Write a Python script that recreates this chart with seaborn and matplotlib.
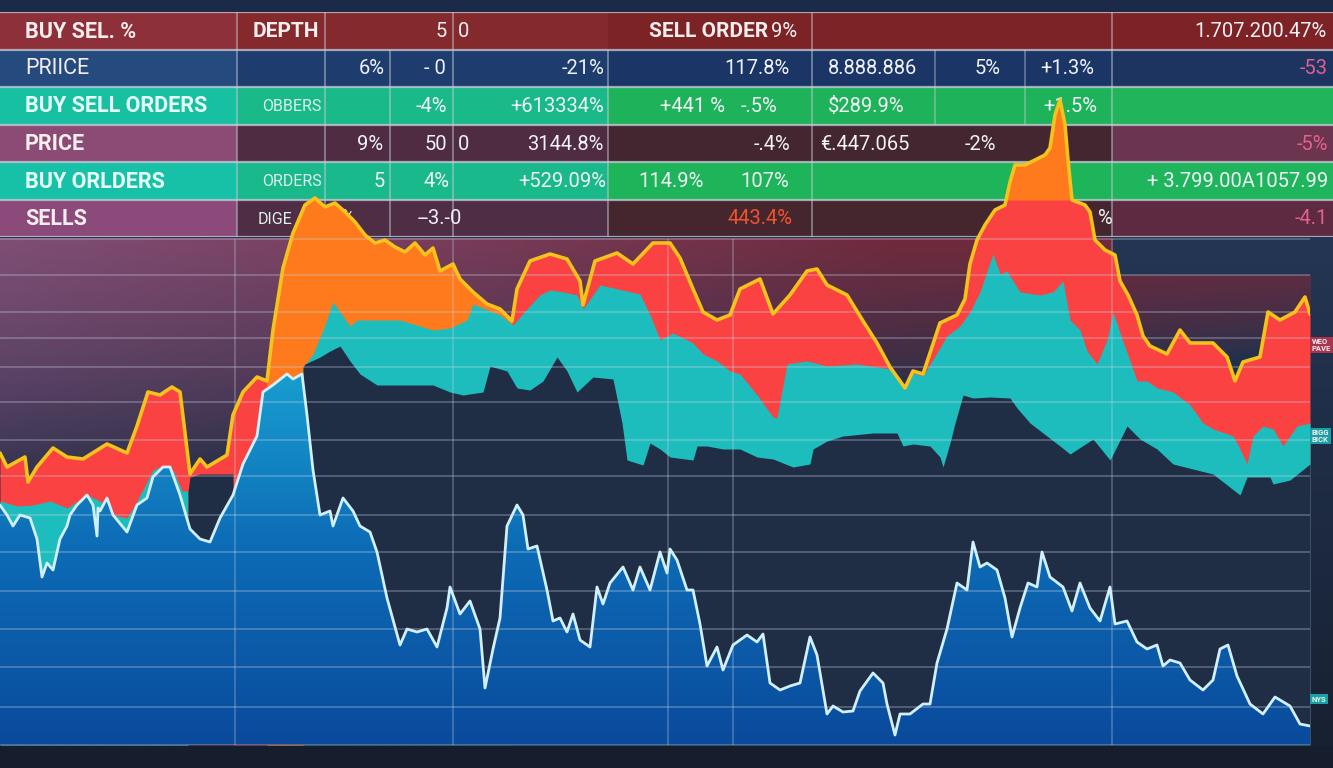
import numpy as np
import matplotlib
matplotlib.use('Agg')
import matplotlib.pyplot as plt
from matplotlib.colors import LinearSegmentedColormap
import seaborn as sns

# ---------------- data ----------------
# gold price line = top of the depth stack
gold_t = [0, 7, 25, 28, 37, 53, 67, 83, 107, 127,
          137, 148, 160, 172, 180, 190, 200, 207, 227, 233,
          243, 257, 267, 273, 283, 293, 305, 315, 325, 335,
          345, 355, 365, 375, 385, 395, 405, 415, 425, 433,
          440, 453, 460, 473, 487, 500, 512, 517, 530, 550,
          567, 580, 583, 595, 617, 633, 653, 670, 680, 693,
          703, 717, 730, 740, 760, 773, 790, 807, 817, 827,
          847, 863, 877, 890, 905, 913, 923, 940, 957, 965,
          970, 977, 985, 995, 1005, 1010, 1015, 1025, 1035, 1045,
          1050, 1055, 1060, 1065, 1068, 1072, 1085, 1090, 1095, 1105,
          1115, 1120, 1128, 1137, 1143, 1150, 1167, 1180, 1190, 1213,
          1227, 1235, 1243, 1260, 1268, 1280, 1295, 1305, 1310]
gold_v = [292, 278, 288, 263, 278, 297, 288, 286, 301, 292,
          319, 353, 350, 358, 353, 271, 286, 278, 290, 330,
          353, 368, 364, 415, 477, 512, 540, 547, 538, 542,
          533, 523, 510, 502, 505, 498, 493, 502, 490, 497,
          474, 481, 466, 453, 441, 436, 424, 456, 484, 491,
          486, 464, 440, 484, 492, 481, 502, 502, 487, 456,
          433, 425, 430, 456, 466, 431, 450, 474, 476, 460,
          450, 424, 402, 378, 357, 374, 371, 422, 430, 446,
          481, 505, 520, 535, 540, 563, 580, 580, 585, 590,
          597, 630, 645, 620, 585, 545, 540, 533, 505, 495,
          490, 464, 450, 430, 409, 399, 391, 415, 402, 402,
          388, 364, 383, 388, 433, 425, 433, 448, 431]

# orange parts of the sell side
orange_spans = [(265, 512), (980, 1080)]
orange_floor = [0, 545]

# teal buy-depth band (top edge), two pieces
teal_left_t = [0, 17, 33, 50, 67, 87, 100, 113, 127, 137, 153, 160, 173, 182, 188]
teal_left_v = [244, 239, 240, 244, 237, 250, 244, 230, 227, 244, 275, 278, 275, 254, 254]
teal_t = [303, 313, 323, 333, 340, 350, 357, 400, 433, 450,
          467, 473, 500, 513, 527, 540, 550, 563, 577, 583,
          600, 640, 650, 660, 673, 693, 703, 717, 730, 740,
          757, 773, 777, 787, 807, 827, 857, 890, 905, 913,
          923, 947, 960, 970, 980, 987, 993, 1000, 1007, 1013,
          1020, 1040, 1053, 1063, 1070, 1080, 1087, 1097, 1107, 1113,
          1120, 1130, 1137, 1147, 1157, 1173, 1190, 1203, 1213, 1233,
          1240, 1247, 1253, 1263, 1273, 1283, 1297, 1310]
teal_v = [378, 391, 415, 443, 433, 419, 425, 425, 415, 417,
          425, 441, 430, 420, 436, 450, 455, 453, 450, 436,
          460, 451, 430, 405, 412, 402, 391, 384, 374, 371,
          350, 328, 327, 381, 384, 379, 381, 376, 355, 372,
          369, 409, 419, 433, 453, 474, 491, 471, 474, 464,
          453, 450, 453, 464, 425, 415, 394, 381, 405, 433,
          412, 384, 364, 364, 357, 353, 340, 322, 316, 309,
          296, 281, 309, 319, 316, 299, 319, 322]

# lower edge of the teal band (empty book below)
gap_t = [188, 190, 200, 233]
gap_v = [254, 268, 271, 271]
navy_t = [303, 305, 320, 330, 340, 350, 360, 377, 400, 433,
          450, 463, 483, 490, 507, 517, 530, 543, 557, 567,
          577, 593, 613, 622, 627, 643, 650, 660, 670, 693,
          697, 707, 723, 740, 757, 773, 793, 810, 813, 827,
          843, 873, 897, 903, 913, 930, 940, 943, 950, 955,
          963, 973, 990, 1010, 1017, 1030, 1043, 1060, 1070, 1093,
          1110, 1127, 1140, 1157, 1173, 1213, 1240, 1247, 1270, 1273,
          1290, 1310]
navy_v = [378, 381, 388, 394, 399, 384, 371, 360, 360, 360,
          353, 350, 353, 379, 374, 357, 355, 364, 388, 374,
          353, 368, 366, 322, 285, 280, 302, 296, 288, 285,
          299, 299, 296, 296, 288, 286, 278, 281, 296, 304,
          309, 312, 312, 299, 301, 299, 288, 278, 302, 322,
          350, 347, 348, 347, 337, 322, 312, 299, 291, 306,
          285, 319, 306, 296, 281, 271, 250, 268, 268, 261,
          265, 281]

# light-blue volume line
blue_t = [0, 7, 13, 20, 30, 37, 42, 47, 53, 60,
          67, 70, 77, 87, 93, 97, 98, 100, 107, 113,
          127, 137, 147, 153, 163, 170, 180, 190, 200, 210,
          220, 233, 243, 257, 263, 273, 287, 293, 302, 307,
          313, 320, 330, 333, 343, 353, 360, 370, 377, 387,
          400, 407, 417, 427, 437, 447, 450, 460, 470, 480,
          485, 493, 500, 507, 517, 523, 528, 537, 547, 553,
          560, 567, 573, 580, 590, 597, 603, 610, 623, 633,
          640, 650, 660, 667, 670, 677, 687, 693, 700, 707,
          717, 723, 733, 747, 757, 763, 770, 780, 790, 800,
          810, 817, 827, 833, 843, 853, 860, 873, 883, 887,
          895, 900, 910, 923, 930, 937, 947, 957, 967, 973,
          980, 987, 997, 1005, 1012, 1020, 1028, 1037, 1042, 1050,
          1063, 1072, 1080, 1090, 1100, 1110, 1115, 1127, 1137, 1147,
          1157, 1163, 1170, 1180, 1190, 1203, 1213, 1220, 1228, 1237,
          1250, 1263, 1275, 1290, 1300, 1310]
blue_v = [240, 230, 219, 230, 227, 206, 168, 182, 175, 206,
          219, 230, 240, 250, 240, 209, 237, 234, 247, 230,
          213, 240, 247, 268, 278, 278, 250, 216, 206, 203,
          227, 250, 281, 309, 353, 360, 371, 366, 371, 330,
          275, 230, 234, 219, 247, 234, 219, 213, 193, 147,
          100, 116, 113, 116, 98, 137, 158, 131, 144, 116,
          57, 96, 127, 219, 240, 230, 196, 199, 155, 124,
          127, 113, 131, 105, 98, 158, 141, 162, 178, 155,
          178, 155, 193, 172, 196, 185, 155, 155, 121, 79,
          98, 75, 100, 110, 103, 111, 62, 55, 59, 62,
          108, 90, 31, 39, 33, 34, 54, 72, 62, 41,
          10, 31, 31, 41, 41, 82, 116, 162, 155, 203,
          178, 182, 175, 147, 108, 137, 162, 158, 193, 168,
          158, 134, 162, 137, 124, 158, 121, 124, 103, 96,
          100, 79, 85, 82, 65, 55, 65, 96, 100, 69,
          41, 31, 48, 39, 21, 19]

grid_levels = [0, 38, 78, 116, 154, 193, 230, 269, 305, 343, 378, 407, 433, 470, 506]
grid_times = [235, 453, 668, 733, 1112]

# order book table
row_labels = ['BUY SEL. %', 'PRIICE', 'BUY SELL ORDERS', 'PRICE', 'BUY ORLDERS', 'SELLS']
row_bold = [True, False, True, True, True, True]
seg_edges = [0, 237, 608, 1112, 1333]
row_colors = [['#8e3039', '#84292c', '#7c2425', '#7d2326'],
              ['#244a7e', '#1e3d6e', '#1b3666', '#1d3460'],
              ['#18c0a2', '#19b98a', '#1eb35a', '#22b45a'],
              ['#8b4b74', '#4f2c42', '#43262f', '#6b3550'],
              ['#17c1a8', '#1ab98c', '#1db45a', '#1fb55c'],
              ['#8c4a7a', '#4f2d45', '#45262f', '#5e2a42']]
head_seps = [237, 325, 453, 812, 1112]
body_seps = [237, 325, 390, 453, 608, 812, 1112]
cell_row = [0, 0, 0, 0, 0, 0,
            1, 1, 1, 1, 1, 1, 1, 1,
            2, 2, 2, 2, 2, 2, 2,
            3, 3, 3, 3, 3, 3, 3, 3,
            4, 4, 4, 4, 4, 4, 4,
            5, 5, 5, 5, 5, 5]
cell_x = [253, 447, 458, 768, 771, 1327,
          385, 446, 604, 790, 828, 975, 1040, 1328,
          262, 447, 604, 660, 741, 828, 1043,
          383, 447, 458, 604, 790, 820, 965, 1328,
          262, 385, 450, 606, 638, 740, 1328,
          258, 330, 418, 792, 1098, 1328]
cell_text = ['DEPTH', '5', '0', 'SELL ORDER', '9%', '1.707.200.47%',
             '6%', '- 0', '-21%', '117.8%', '8.888.886', '5%', '+1.3%', '-53',
             'OBBERS', '-4%', '+613334%', '+441 %', '-.5%', '$289.9%', '+1.5%',
             '9%', '50', '0', '3144.8%', '-.4%', '€.447.065', '-2%', '-5%',
             'ORDERS', '5', '4%', '+529.09%', '114.9%', '107%', '+ 3.799.00A1057.99',
             'DIGE', '0%', '--3.-0', '443.4%', '%', '-4.1']
cell_ha = ['left', 'right', 'left', 'right', 'left', 'right',
           'right', 'right', 'right', 'right', 'left', 'left', 'left', 'right',
           'left', 'right', 'right', 'left', 'left', 'left', 'left',
           'right', 'right', 'left', 'right', 'right', 'left', 'left', 'right',
           'left', 'right', 'right', 'right', 'left', 'left', 'right',
           'left', 'left', 'left', 'right', 'left', 'right']
cell_kind = ['head', 'num', 'num', 'head', 'num', 'num',
             'num', 'num', 'num', 'num', 'num', 'num', 'num', 'pink',
             'small', 'num', 'num', 'num', 'num', 'num', 'num',
             'num', 'num', 'num', 'num', 'num', 'num', 'num', 'pink',
             'small', 'num', 'num', 'num', 'num', 'num', 'num',
             'small', 'num', 'num', 'red', 'num', 'pink']

side_tags = ['WEO\nPAVE', 'BIGG\nBICK', 'NYS']
side_levels = [400, 309, 46]
side_colors = ['#a8344f', '#1c9ea6', '#1aa3a3']

RED = '#fb4242'
ORANGE = '#ff7a1c'
TEAL = '#1ebdbd'
NAVY = '#1f2d45'
GOLD = '#f6c21c'
LINE_BLUE = '#d2f0fb'

kind_style = {'head': dict(fontsize=15, fontweight='bold', color='#f6eeee'),
              'num': dict(fontsize=14.5, color='#f0f2f6'),
              'small': dict(fontsize=11.5, color='#dcf3ec'),
              'pink': dict(fontsize=14.5, color='#e2608c'),
              'red': dict(fontsize=14.5, color='#f0542c')}


def make_background():
    yy, xx = np.mgrid[0:768, 0:1333].astype(float)
    t = np.clip((yy - 238) / 507, 0, 1)[..., None]
    img = np.array([36, 54, 84]) * (1 - t) + np.array([24, 33, 50]) * t
    h = 505 - 0.12 * xx
    w = np.clip((h - yy) / (h - 238), 0, 1) ** 0.7
    w[(yy < 238) | (xx > 1310)] = 0
    w[(xx > 1112) & (yy < 275)] = 0
    s = np.clip(xx / 900, 0, 1)[..., None]
    warm = np.array([128, 78, 118]) * (1 - s) + np.array([112, 42, 60]) * s
    img = img * (1 - w[..., None]) + warm * w[..., None]
    img[yy > 745] = [22, 30, 46]
    img[yy < 12] = [26, 42, 72]
    return img / 255


sns.set_style('dark')
plt.rcParams['font.family'] = ['Liberation Sans Narrow', 'Roboto', 'DejaVu Sans']

fig = plt.figure(figsize=(13.33, 7.68), dpi=100)

# background
bg = fig.add_axes([0, 0, 1, 1], zorder=0)
bg.imshow(make_background(), extent=[0, 1333, 768, 0], aspect='auto', interpolation='bilinear')
bg.set_xlim(0, 1333)
bg.set_ylim(768, 0)
bg.axis('off')

# order book table
tab = fig.add_axes([0, 531 / 768, 1, 225 / 768], zorder=1)
tab.set_xlim(0, 1333)
tab.set_ylim(6, 0)
tab.axis('off')
for r, cols in enumerate(row_colors):
    for k in range(len(seg_edges) - 1):
        tab.barh(r + 0.5, seg_edges[k + 1] - seg_edges[k], left=seg_edges[k],
                 height=1, color=cols[k], lw=0)
tab.hlines(range(7), 0, 1333, color='#c9cdd8', lw=1.6, alpha=0.75)
tab.vlines(head_seps, 0, 1, color='#c9cdd8', lw=1.2, alpha=0.55)
tab.vlines(body_seps, 1, 6, color='#c9cdd8', lw=1.2, alpha=0.55)
tab.vlines([935, 1025], 1, 3, color='#c9cdd8', lw=1.2, alpha=0.45)
for r, lab in enumerate(row_labels):
    light = '#e8fff8' if r in (2, 4) else '#f6eeee'
    tab.text(25, r + 0.52, lab, ha='left', va='center', fontsize=15.5,
             fontweight='bold' if row_bold[r] else 'normal', color=light)
for r, x, s, ha, kind in zip(cell_row, cell_x, cell_text, cell_ha, cell_kind):
    tab.text(x, r + 0.52, s, ha=ha, va='center', **kind_style[kind])

# depth chart
ax = fig.add_axes([0, 23 / 768, 1310 / 1333, 745 / 768], zorder=2)
ax.patch.set_alpha(0)

gold_t_a = np.array(gold_t)
gold_v_a = np.array(gold_v)
ax.fill_between(gold_t, gold_v, 0, color=RED, lw=0, zorder=1)
for (a, b), floor in zip(orange_spans, orange_floor):
    ax.fill_between(gold_t_a, gold_v_a, floor,
                    where=(gold_t_a >= a) & (gold_t_a <= b) & (gold_v_a >= floor),
                    interpolate=True, color=ORANGE, lw=0, zorder=1.5)
ax.fill_between(teal_left_t, teal_left_v, 0, color=TEAL, lw=0, zorder=2)
ax.fill_between(teal_t, teal_v, 0, color=TEAL, lw=0, zorder=2)
ax.fill_between(gap_t, gap_v, 0, color=NAVY, lw=0, zorder=2.5)
ax.fill_between(navy_t, navy_v, 0, color=NAVY, lw=0, zorder=2.5)

blue_poly = ax.fill_between(blue_t, blue_v, 0, color='none', lw=0, zorder=3)
blue_cmap = LinearSegmentedColormap.from_list('vol', ['#0a4a9c', '#0d6cb6', '#1aa6d4'])
grad = np.linspace(1, 0, 256)[:, None]
im = ax.imshow(grad, extent=[0, 1310, 0, 400], aspect='auto', cmap=blue_cmap,
               origin='upper', zorder=3)
im.set_clip_path(blue_poly.get_paths()[0], transform=ax.transData)

ax.hlines(grid_levels, 0, 1310, color='#c8d2e4', lw=1.3, alpha=0.32, zorder=4)
ax.vlines(grid_times, 0, 506, color='#c8d2e4', lw=1.2, alpha=0.32, zorder=4)

sns.lineplot(x=blue_t, y=blue_v, ax=ax, color=LINE_BLUE, lw=2.0, estimator=None, zorder=5)
sns.lineplot(x=gold_t, y=gold_v, ax=ax, color=GOLD, lw=2.6, estimator=None, zorder=6)

for s, lv, c in zip(side_tags, side_levels, side_colors):
    ax.text(1312, lv, s, ha='left', va='center', fontsize=5.5, fontweight='bold',
            color='#f0f0f0', clip_on=False, linespacing=0.95,
            bbox=dict(boxstyle='square,pad=0.2', fc=c, ec='none'))

ax.set_xlim(0, 1310)
ax.set_ylim(0, 745)
ax.axis('off')

fig.savefig('out.png', dpi=100)
